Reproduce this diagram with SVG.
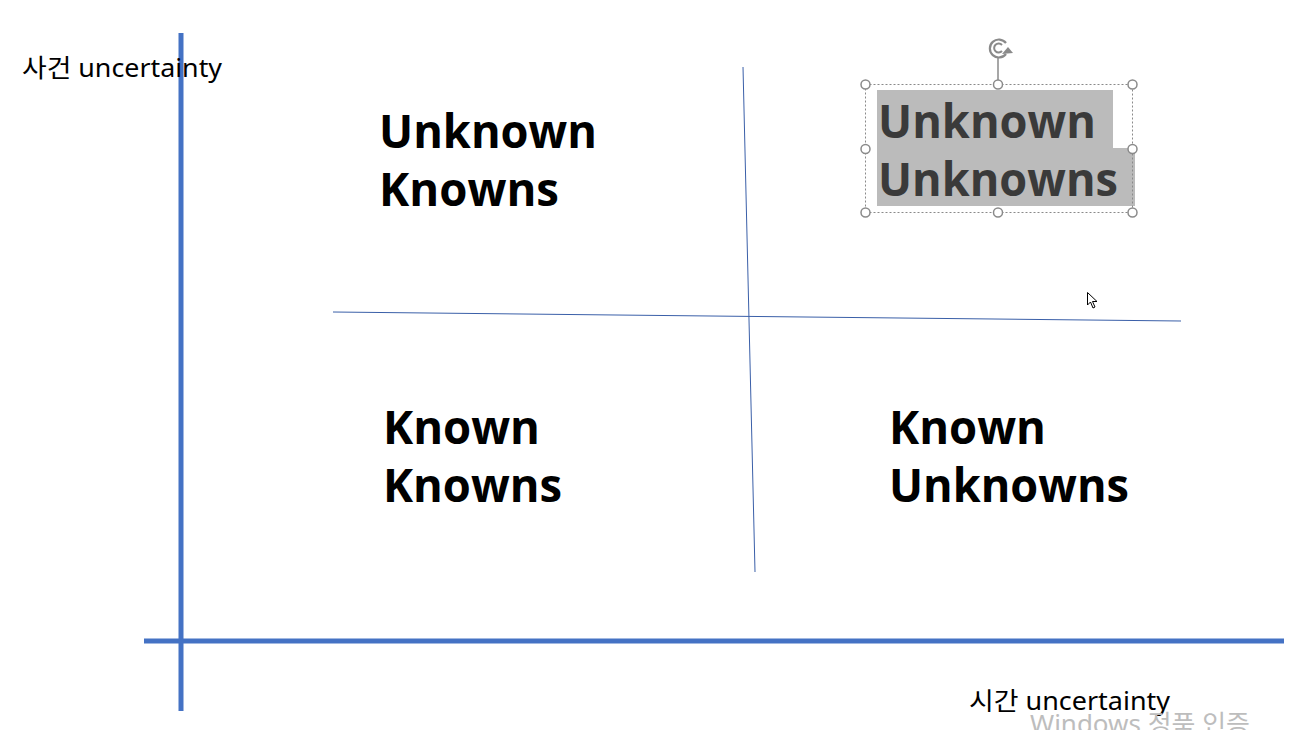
<svg xmlns="http://www.w3.org/2000/svg" width="1307" height="730" viewBox="0 0 1307 730">
  <style>
    .axis { stroke: #4472C4; stroke-width: 5; fill: none; }
    .grid { stroke: #3A5FA8; stroke-width: 1; fill: none; }
    .quad { font-family: "Open Sans", "Noto Sans", sans-serif; font-weight: bold; font-size: 46px; fill: #000; }
    .label { font-family: "Noto Sans", "Noto Sans CJK KR", sans-serif; font-size: 25px; fill: #000; }
    .handle { fill: #fff; stroke: #8A8A8A; stroke-width: 1.5; }
  </style>
  <rect width="1307" height="730" fill="#fff"/>

  <g id="connectors">
    <!-- main axes -->
    <line class="axis" x1="181" y1="33" x2="181" y2="711"/>
    <line class="axis" x1="144" y1="641" x2="1284" y2="641"/>
    <!-- quadrant dividers -->
    <line class="grid" x1="333" y1="312" x2="1181" y2="321"/>
    <line class="grid" x1="743" y1="67" x2="755" y2="572"/>
  </g>

  <g id="axis-y-label">
    <text class="label" x="22" y="77" textLength="200" lengthAdjust="spacingAndGlyphs">사건 uncertainty</text>
  </g>
  <g id="axis-x-label">
    <text class="label" x="969" y="710" textLength="201" lengthAdjust="spacingAndGlyphs">시간 uncertainty</text>
  </g>

  <g id="unknown-knowns">
    <text class="quad" x="379" y="148" textLength="218" lengthAdjust="spacingAndGlyphs">Unknown</text>
    <text class="quad" x="379" y="206" textLength="180" lengthAdjust="spacingAndGlyphs">Knowns</text>
  </g>

  <g id="known-knowns">
    <text class="quad" x="383" y="444" textLength="157" lengthAdjust="spacingAndGlyphs">Known</text>
    <text class="quad" x="383" y="502" textLength="179" lengthAdjust="spacingAndGlyphs">Knowns</text>
  </g>

  <g id="known-unknowns">
    <text class="quad" x="889" y="444" textLength="157" lengthAdjust="spacingAndGlyphs">Known</text>
    <text class="quad" x="889" y="502" textLength="240" lengthAdjust="spacingAndGlyphs">Unknowns</text>
  </g>

  <g id="unknown-unknowns">
    <!-- text selection highlight -->
    <path d="M877 90 H1113 V148 H1135 V206 H877 Z" fill="#BBBBBB"/>
    <text class="quad" x="878" y="138" style="fill:#3A3A3A" textLength="218" lengthAdjust="spacingAndGlyphs">Unknown</text>
    <text class="quad" x="878" y="196" style="fill:#3A3A3A" textLength="240" lengthAdjust="spacingAndGlyphs">Unknowns</text>
    <!-- selection frame -->
    <rect x="865.5" y="84.5" width="267" height="128" fill="none" stroke="#8A8A8A" stroke-width="1" stroke-dasharray="2 2"/>
    <line x1="998" y1="58" x2="998" y2="84" stroke="#8A8A8A" stroke-width="1.5"/>
    <!-- rotation handle -->
    <path d="M1006 54 A9 9 0 1 1 1006 43" fill="none" stroke="#8A8A8A" stroke-width="2.2"/>
    <path d="M1002 51 A4.5 4.5 0 1 1 1002 45" fill="none" stroke="#8A8A8A" stroke-width="2"/>
    <path d="M1002 54 L1013 53 L1008 47 Z" fill="#8A8A8A"/>
    <circle class="handle" cx="865.5" cy="84.5" r="4.5"/>
    <circle class="handle" cx="998" cy="84.5" r="4.5"/>
    <circle class="handle" cx="1132.5" cy="84.5" r="4.5"/>
    <circle class="handle" cx="865.5" cy="149" r="4.5"/>
    <circle class="handle" cx="1132.5" cy="149" r="4.5"/>
    <circle class="handle" cx="865.5" cy="212.5" r="4.5"/>
    <circle class="handle" cx="998" cy="212.5" r="4.5"/>
    <circle class="handle" cx="1132.5" cy="212.5" r="4.5"/>
  </g>

  <!-- pointer -->
  <path d="M1087.5 292.5 V305 L1090.5 302 L1093 308 L1095 307 L1092.5 301.5 L1097 301.5 Z" fill="#fff" stroke="#000" stroke-width="1"/>

  <text x="1030" y="733" font-family="Noto Sans, Noto Sans CJK KR, sans-serif" font-size="25" fill="#BDBDBD" textLength="220" lengthAdjust="spacingAndGlyphs">Windows 정품 인증</text>
</svg>
